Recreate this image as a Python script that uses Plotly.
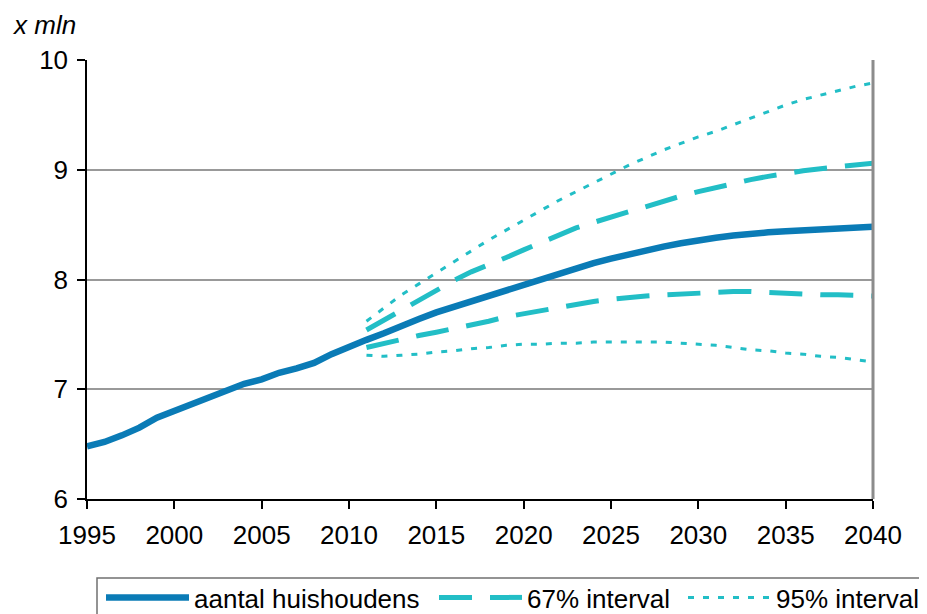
import plotly.graph_objects as go

years_main = list(range(1995, 2041))
huishoudens = [6.48, 6.52, 6.58, 6.65, 6.74, 6.80, 6.87, 6.93, 6.99, 7.05,
               7.09, 7.15, 7.19, 7.24, 7.32, 7.39, 7.45, 7.51, 7.58, 7.64,
               7.70, 7.75, 7.80, 7.86, 7.91, 7.96, 8.01, 8.06, 8.10, 8.15,
               8.19, 8.23, 8.27, 8.30, 8.33, 8.36, 8.38, 8.40, 8.42, 8.43,
               8.44, 8.45, 8.46, 8.47, 8.47, 8.48]

years_fc = list(range(2011, 2041))
upper67 = [7.54, 7.63, 7.72, 7.82, 7.91, 7.99, 8.07, 8.13, 8.20, 8.27,
           8.34, 8.41, 8.47, 8.52, 8.57, 8.62, 8.67, 8.72, 8.76, 8.80,
           8.84, 8.88, 8.91, 8.94, 8.97, 8.99, 9.01, 9.03, 9.05, 9.06]
lower67 = [7.38, 7.42, 7.45, 7.49, 7.52, 7.55, 7.59, 7.62, 7.66, 7.69,
           7.72, 7.75, 7.77, 7.80, 7.82, 7.84, 7.85, 7.86, 7.87, 7.88,
           7.89, 7.89, 7.89, 7.88, 7.87, 7.87, 7.86, 7.86, 7.85, 7.85]
upper95 = [7.62, 7.74, 7.86, 7.96, 8.06, 8.16, 8.26, 8.36, 8.45, 8.54,
           8.63, 8.72, 8.80, 8.88, 8.96, 9.04, 9.11, 9.18, 9.24, 9.30,
           9.35, 9.41, 9.47, 9.53, 9.59, 9.64, 9.68, 9.72, 9.76, 9.79]
lower95 = [7.31, 7.30, 7.31, 7.32, 7.34, 7.35, 7.37, 7.38, 7.40, 7.41,
           7.41, 7.42, 7.42, 7.43, 7.43, 7.43, 7.43, 7.43, 7.42, 7.41,
           7.40, 7.38, 7.36, 7.35, 7.33, 7.32, 7.30, 7.29, 7.27, 7.25]

x_ticks = [1995, 2000, 2005, 2010, 2015, 2020, 2025, 2030, 2035, 2040]
y_ticks = [6, 7, 8, 9, 10]

MAIN = "#0A7BB6"
INT = "#22BEC6"
FONT = "Liberation Sans, Arial, sans-serif"
FS = 26

# page body has an 8px margin: the plot area in screen pixels is 87..873 x 60..499
PW, PH = 786, 439


def px_x(sx):
    return (sx - 87) / PW


def px_y(sy):
    return (499 - sy) / PH


fig = go.Figure()
fig.add_trace(go.Scatter(x=years_main, y=huishoudens, mode="lines",
                         name="aantal huishoudens", legend="legend",
                         line=dict(color=MAIN, width=6.5)))
fig.add_trace(go.Scatter(x=years_fc, y=upper67, mode="lines",
                         name="67% interval", legend="legend2",
                         line=dict(color=INT, width=5, dash="33px,18px")))
fig.add_trace(go.Scatter(x=years_fc, y=lower67, mode="lines",
                         name="67% interval", showlegend=False, legend="legend2",
                         line=dict(color=INT, width=5, dash="33px,18px")))
fig.add_trace(go.Scatter(x=years_fc, y=upper95, mode="lines",
                         name="95% interval", legend="legend3",
                         line=dict(color=INT, width=3, dash="6px,9px")))
fig.add_trace(go.Scatter(x=years_fc, y=lower95, mode="lines",
                         name="95% interval", showlegend=False, legend="legend3",
                         line=dict(color=INT, width=3, dash="6px,9px")))

leg_common = dict(orientation="h", xanchor="left", yanchor="top",
                  borderwidth=0, bgcolor="rgba(0,0,0,0)",
                  font=dict(family=FONT, size=FS, color="black"), itemwidth=83)

fig.update_layout(
    width=927, height=614,
    margin=dict(l=79, r=62, t=52, b=123, autoexpand=False),
    paper_bgcolor="white", plot_bgcolor="white",
    font=dict(family=FONT, size=FS, color="black"),
    showlegend=True,
    legend=dict(x=px_x(101), y=px_y(574), **leg_common),
    legend2=dict(x=px_x(434), y=px_y(574), **leg_common),
    legend3=dict(x=px_x(683), y=px_y(574), **leg_common),
    xaxis=dict(range=[1995, 2040], tickvals=x_ticks, ticktext=[str(v) for v in x_ticks],
               showgrid=False, zeroline=False, showline=True, linecolor="black",
               linewidth=1.5, ticks="outside", ticklen=8, tickcolor="black",
               tickwidth=1.5, tickfont=dict(size=FS), ticklabelstandoff=4),
    yaxis=dict(range=[6, 10], tickvals=y_ticks, showgrid=True, gridcolor="#999999",
               gridwidth=1.5, zeroline=False, showline=True, linecolor="black",
               linewidth=1.5, ticks="outside", ticklen=8, tickcolor="black",
               tickwidth=1.5, tickfont=dict(size=FS), ticklabelstandoff=4),
    annotations=[dict(text="<i>x mln</i>", xref="paper", yref="paper",
                      x=px_x(10), y=px_y(25), xanchor="left",
                      yanchor="middle", showarrow=False,
                      font=dict(family=FONT, size=FS))],
    shapes=[
        dict(type="line", xref="paper", yref="paper", x0=1, x1=1, y0=0, y1=1,
             line=dict(color="#8C8C8C", width=3)),
        dict(type="rect", xref="paper", yref="paper",
             x0=px_x(97), x1=px_x(960), y0=px_y(578), y1=px_y(640),
             line=dict(color="#707070", width=1.5), fillcolor="rgba(0,0,0,0)"),
    ],
)

fig.write_html("out.html")
